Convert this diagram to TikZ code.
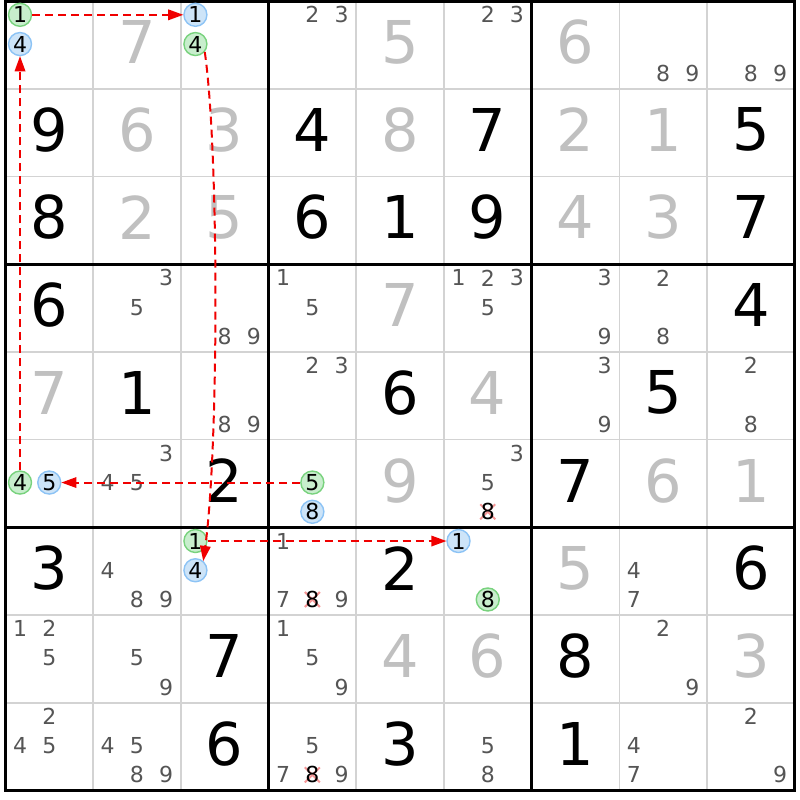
\documentclass[tikz,border=0pt]{standalone}
\usepackage{fontspec}
\setmainfont{DejaVu Sans}
\usetikzlibrary{calc}
\definecolor{cand}{RGB}{85,85,85}
\definecolor{solved}{RGB}{192,192,192}
\definecolor{thinline}{RGB}{211,211,211}
\definecolor{gfill}{RGB}{200,238,205}
\definecolor{gline}{RGB}{120,210,125}
\definecolor{bfill}{RGB}{205,228,248}
\definecolor{bline}{RGB}{140,195,245}
\definecolor{xcol}{RGB}{245,150,150}
\definecolor{arrred}{RGB}{240,0,0}
\newcommand\chaintip[2]{%
  \fill[arrred] (#1) -- ($(#1)!15pt!(#2)!5.5pt!90:(#1)$) -- ($(#1)!15pt!(#2)!5.5pt!-90:(#1)$) -- cycle;}
\begin{document}
\begin{tikzpicture}[x=1pt,y=-1pt,
  big/.style={font=\fontsize{59}{59}\selectfont, inner sep=0pt},
  given/.style={big,text=black},
  solvedd/.style={big,text=solved},
  small/.style={font=\fontsize{22}{22}\selectfont, inner sep=0pt, text=cand},
  hl/.style={small, circle, text=black, minimum size=23pt, line width=1.4pt},
  hg/.style={hl, fill=gfill, draw=gline},
  hb/.style={hl, fill=bfill, draw=bline},
  crossed/.style={small, text=black},
  xmark/.style={draw=xcol, line width=2pt},
  chain/.style={draw=arrred, line width=2pt, dash pattern=on 8pt off 5pt, shorten >=12pt},
  thingrid/.style={draw=thinline, line width=1.5pt},
  thickgrid/.style={draw=black, line width=3pt},
]
\def\xo{5.4}
\def\yo{1.2}
\def\cz{87.7}
\useasboundingbox[fill=white] (0,0) rectangle (800,800);
% thin grid lines
\foreach \i in {1,2,4,5,7,8}{
  \draw[thingrid] ({\xo+\i*\cz},\yo) -- ({\xo+\i*\cz},{\yo+9*\cz});
  \draw[thingrid] (\xo,{\yo+\i*\cz}) -- ({\xo+9*\cz},{\yo+\i*\cz});
}
% thick grid lines
\foreach \i in {3,6}{
  \draw[thickgrid] ({\xo+\i*\cz},\yo) -- ({\xo+\i*\cz},{\yo+9*\cz});
  \draw[thickgrid] (\xo,{\yo+\i*\cz}) -- ({\xo+9*\cz},{\yo+\i*\cz});
}
\draw[thickgrid] (\xo,\yo) rectangle ({\xo+9*\cz},{\yo+9*\cz});
% given digits
\foreach \r/\c/\v in {2/1/9,2/4/4,2/6/7,2/9/5,
  3/1/8,3/4/6,3/5/1,3/6/9,3/9/7,
  4/1/6,4/9/4,
  5/2/1,5/5/6,5/8/5,
  6/3/2,6/7/7,
  7/1/3,7/5/2,7/9/6,
  8/3/7,8/7/8,
  9/3/6,9/5/3,9/7/1}{
  \node[given] (g\r\c) at ({\xo+(\c-0.5)*\cz},{\yo+(\r-0.5)*\cz-3}) {\v};
}
% solved digits
\foreach \r/\c/\v in {1/2/7,1/5/5,1/7/6,
  2/2/6,2/3/3,2/5/8,2/7/2,2/8/1,
  3/2/2,3/3/5,3/7/4,3/8/3,
  4/5/7,
  5/1/7,5/6/4,
  6/5/9,6/8/6,6/9/1,
  7/7/5,
  8/5/4,8/6/6,8/9/3}{
  \node[solvedd] (s\r\c) at ({\xo+(\c-0.5)*\cz},{\yo+(\r-0.5)*\cz-3}) {\v};
}
% plain candidates
\foreach \r/\c/\d in {1/4/2,1/4/3,1/6/2,1/6/3,1/8/8,1/8/9,1/9/8,1/9/9,
  4/2/3,4/2/5,4/3/8,4/3/9,4/4/1,4/4/5,4/6/1,4/6/2,4/6/3,4/6/5,4/7/3,4/7/9,4/8/2,4/8/8,
  5/3/8,5/3/9,5/4/2,5/4/3,5/7/3,5/7/9,5/9/2,5/9/8,
  6/2/3,6/2/4,6/2/5,6/6/3,6/6/5,
  7/2/4,7/2/8,7/2/9,7/4/1,7/4/7,7/4/9,7/8/4,7/8/7,
  8/1/1,8/1/2,8/1/5,8/2/5,8/2/9,8/4/1,8/4/5,8/4/9,8/8/2,8/8/9,
  9/1/2,9/1/4,9/1/5,9/2/4,9/2/5,9/2/8,9/2/9,9/4/5,9/4/7,9/4/9,9/6/5,9/6/8,9/8/4,9/8/7,9/9/2,9/9/9}{
  \node[small] (k\r\c\d) at ({\xo+(\c-1)*\cz+(2*mod(\d-1,3)+1)*\cz/6},{\yo+(\r-1)*\cz+(2*div(\d-1,3)+1)*\cz/6-1}) {\d};
}
% crossed-out candidates
\foreach \r/\c/\d in {6/6/8,7/4/8,9/4/8}{
  \coordinate (x\r\c\d) at ({\xo+(\c-1)*\cz+(2*mod(\d-1,3)+1)*\cz/6},{\yo+(\r-1)*\cz+(2*div(\d-1,3)+1)*\cz/6-1});
  \draw[xmark] ($(x\r\c\d)+(-7.5,-7.5)$) -- ($(x\r\c\d)+(7.5,7.5)$);
  \draw[xmark] ($(x\r\c\d)+(-7.5,7.5)$) -- ($(x\r\c\d)+(7.5,-7.5)$);
  \node[crossed] (k\r\c\d) at (x\r\c\d) {\d};
}
% green highlighted candidates
\foreach \r/\c/\d in {1/1/1,1/3/4,6/1/4,6/4/5,7/3/1,7/6/8}{
  \node[hg] (k\r\c\d) at ({\xo+(\c-1)*\cz+(2*mod(\d-1,3)+1)*\cz/6},{\yo+(\r-1)*\cz+(2*div(\d-1,3)+1)*\cz/6-1}) {\d};
}
% blue highlighted candidates
\foreach \r/\c/\d in {1/1/4,1/3/1,6/1/5,6/4/8,7/3/4,7/6/1}{
  \node[hb] (k\r\c\d) at ({\xo+(\c-1)*\cz+(2*mod(\d-1,3)+1)*\cz/6},{\yo+(\r-1)*\cz+(2*div(\d-1,3)+1)*\cz/6-1}) {\d};
}
% chain
\draw[chain] (k111) -- (k131.west);
\chaintip{k131.west}{k111}
\draw[chain] (k134.-40) .. controls (219,150) and (219,450) .. (k734.50);
\chaintip{k734.50}{219,450}
\draw[chain] (k731) -- (k761.west);
\chaintip{k761.west}{k731}
\draw[chain] (k645) -- (k615.east);
\chaintip{k615.east}{k645}
\draw[chain] (k614) -- (k114.south);
\chaintip{k114.south}{k614}
\end{tikzpicture}
\end{document}
